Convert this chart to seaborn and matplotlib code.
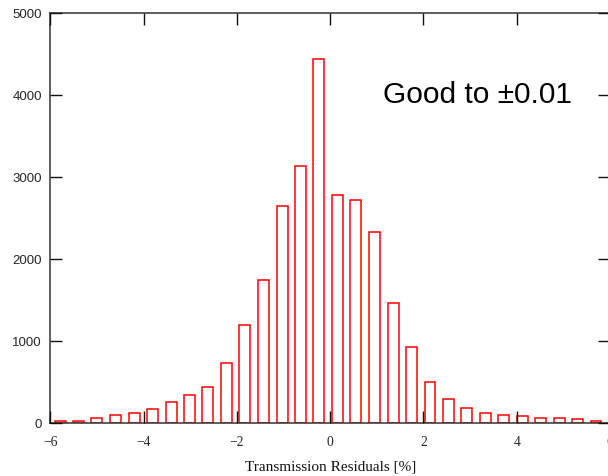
import matplotlib
matplotlib.use("Agg")
import matplotlib.pyplot as plt
import seaborn as sns
import pandas as pd

# bin centres of the residual histogram [%]
bin_centers = [-5.79, -5.39, -5.00, -4.60, -4.20, -3.81, -3.41, -3.02, -2.62, -2.22,
               -1.83, -1.43, -1.03, -0.64, -0.24, 0.16, 0.55, 0.95, 1.35, 1.74,
               2.14, 2.53, 2.93, 3.33, 3.72, 4.12, 4.51, 4.91, 5.31, 5.70]
counts = [30, 30, 65, 100, 125, 165, 250, 340, 440, 735,
          1200, 1740, 2645, 3135, 4430, 2780, 2720, 2330, 1460, 925,
          495, 295, 185, 120, 100, 80, 60, 60, 45, 28]
x_ticks = [-6, -4, -2, 0, 2, 4, 6]
x_tick_labels = ["\u22126", "\u22124", "\u22122", "0", "2", "4", "6"]
y_ticks = [0, 1000, 2000, 3000, 4000, 5000]
x_label = "Transmission Residuals [%]"
note = "Good to \u00b10.01"

df = pd.DataFrame({"x": bin_centers, "n": counts})

sns.set_theme(style="white")
fig = plt.figure(figsize=(6.08, 4.77), dpi=100)
W, H = 608, 477
ax = fig.add_axes([50.3 / W, 1 - 424 / H, (610 - 50.3) / W, (424 - 13.7) / H])

sns.barplot(data=df, x="x", y="n", native_scale=True, width=0.6,
            facecolor="white", edgecolor="#ff0000", linewidth=1.1, ax=ax,
            errorbar=None)

ax.set_xlim(-6, 6)
ax.set_ylim(0, 5000)
ax.set_xticks(x_ticks)
ax.set_xticklabels(x_tick_labels, family="Liberation Serif", fontsize=9.8)
ax.set_yticks(y_ticks)
ax.set_yticklabels([str(v) for v in y_ticks], family="Liberation Sans", fontsize=9.5)
ax.tick_params(axis="both", direction="in", length=8.6, width=1.0, color="#111111",
               top=True, right=True, bottom=True, left=True)
ax.tick_params(axis="x", pad=9)
ax.tick_params(axis="y", pad=6)
for sp in ax.spines.values():
    sp.set_color("#333333")
    sp.set_linewidth(1.1)
    sp.set_visible(True)
for t in ax.xaxis.get_major_ticks() + ax.yaxis.get_major_ticks():
    t.tick1line.set_zorder(5)
    t.tick2line.set_zorder(5)
ax.set_axisbelow(False)

ax.set_xlabel(x_label, family="Liberation Serif", fontsize=11, labelpad=8, color="#111111")
ax.set_ylabel("")
ax.grid(False)

ax.text(3.15, 3910, note, family="Liberation Sans", fontsize=21.5, ha="center",
        va="baseline", color="black")

fig.savefig("out.png", dpi=100)
